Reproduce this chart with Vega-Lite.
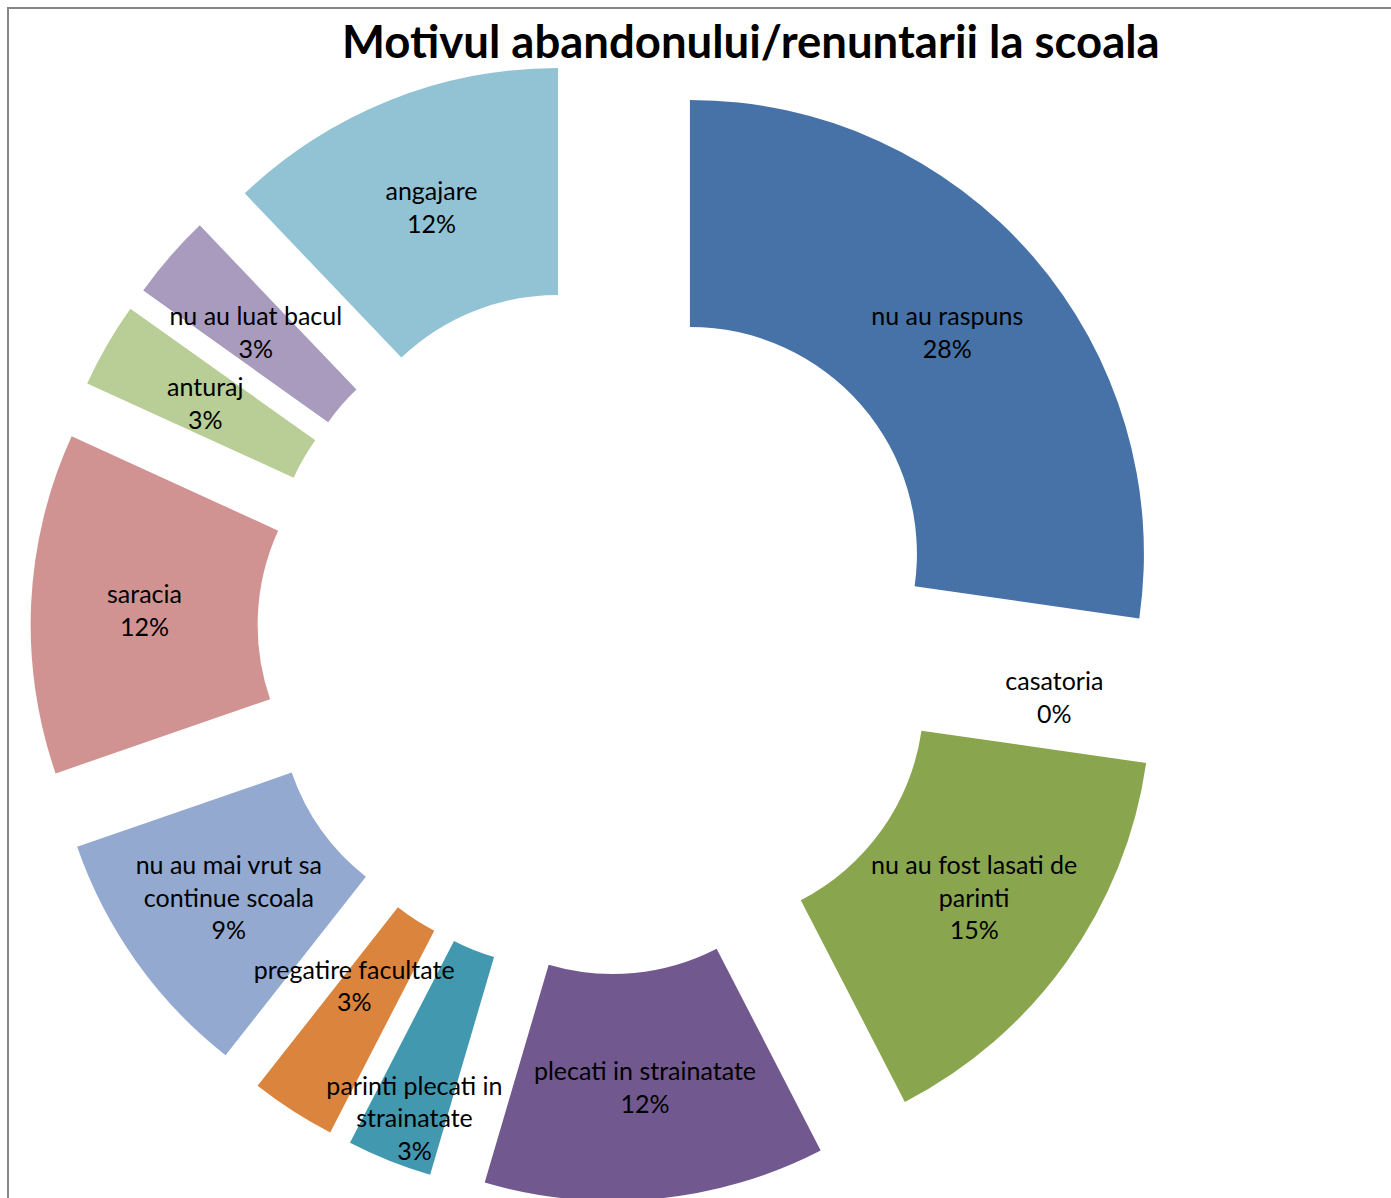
{
  "$schema": "https://vega.github.io/schema/vega-lite/v6.json",
  "width": 1400,
  "height": 1210,
  "autosize": "none",
  "padding": {"left": 8, "top": 8, "right": 0, "bottom": 0},
  "background": "white",
  "view": {"stroke": "#878787", "strokeWidth": 2},
  "title": {
    "text": "Motivul abandonului/renuntarii la scoala",
    "font": "Lato",
    "fontSize": 45.5,
    "fontWeight": "bold",
    "color": "black",
    "anchor": "start",
    "dx": 334,
    "offset": -95,
    "baseline": "alphabetic"
  },
  "data": {
    "values": [
      {"label": "nu au raspuns", "text": "nu au raspuns\n28%", "value": 9},
      {"label": "casatoria", "text": "casatoria\n0%", "value": 0},
      {"label": "nu au fost lasati de parinti", "text": "nu au fost lasati de\nparinti\n15%", "value": 5},
      {"label": "plecati in strainatate", "text": "plecati in strainatate\n12%", "value": 4},
      {"label": "parinti plecati in strainatate", "text": "parinti plecati in\nstrainatate\n3%", "value": 1},
      {"label": "pregatire facultate", "text": "pregatire facultate\n3%", "value": 1},
      {"label": "nu au mai vrut sa continue scoala", "text": "nu au mai vrut sa\ncontinue scoala\n9%", "value": 3},
      {"label": "saracia", "text": "saracia\n12%", "value": 4},
      {"label": "anturaj", "text": "anturaj\n3%", "value": 1},
      {"label": "nu au luat bacul", "text": "nu au luat bacul\n3%", "value": 1},
      {"label": "angajare", "text": "angajare\n12%", "value": 4}
    ]
  },
  "transform": [
    {"window": [{"op": "sum", "field": "value", "as": "cum"}], "frame": [null, 0]},
    {"joinaggregate": [{"op": "sum", "field": "value", "as": "total"}]},
    {"calculate": "datum.cum - datum.value", "as": "start"},
    {"calculate": "(datum.start + datum.value / 2) / datum.total * 2 * PI", "as": "mid"},
    {"calculate": "601.5 + 117 * sin(datum.mid)", "as": "cx"},
    {"calculate": "630.5 - 117 * cos(datum.mid)", "as": "cy"},
    {"calculate": "length(split(datum.text, '\\n'))", "as": "nlines"},
    {"calculate": "601.5 + 457.5 * sin(datum.mid) + (datum.label == 'parinti plecati in strainatate' ? -17 : 0)", "as": "lx"},
    {"calculate": "633 - 457.5 * cos(datum.mid) - (datum.nlines - 1) * 16 + (datum.label == 'parinti plecati in strainatate' ? 61 : datum.label == 'pregatire facultate' ? -31 : 0)", "as": "ly"}
  ],
  "layer": [
    {
      "mark": {"type": "arc", "radius": 454, "radius2": 227},
      "encoding": {
        "x": {"field": "cx", "type": "quantitative", "scale": {"domain": [8, 1391], "range": [0, 1383]}, "axis": null},
        "y": {"field": "cy", "type": "quantitative", "scale": {"domain": [8, 1198], "range": [0, 1190]}, "axis": null},
        "theta": {"field": "start", "type": "quantitative", "stack": null, "scale": {"domain": [0, 33], "range": [0, 6.283185307179586]}},
        "theta2": {"field": "cum"},
        "color": {
          "field": "label",
          "type": "nominal",
          "legend": null,
          "scale": {
            "domain": ["nu au raspuns", "casatoria", "nu au fost lasati de parinti", "plecati in strainatate", "parinti plecati in strainatate", "pregatire facultate", "nu au mai vrut sa continue scoala", "saracia", "anturaj", "nu au luat bacul", "angajare"],
            "range": ["#4672A7", "#AA4643", "#89A54E", "#71588F", "#4198AF", "#DB843D", "#93A9CF", "#D19392", "#B9CD96", "#A99BBD", "#92C3D4"]
          }
        }
      }
    },
    {
      "mark": {"type": "text", "font": "Lato", "fontSize": 25, "lineBreak": "\n", "lineHeight": 32.5, "align": "center", "baseline": "middle", "color": "black"},
      "encoding": {
        "x": {"field": "lx", "type": "quantitative", "scale": {"domain": [8, 1391], "range": [0, 1383]}, "axis": null},
        "y": {"field": "ly", "type": "quantitative", "scale": {"domain": [8, 1198], "range": [0, 1190]}, "axis": null},
        "text": {"field": "text", "type": "nominal"}
      }
    }
  ]
}
